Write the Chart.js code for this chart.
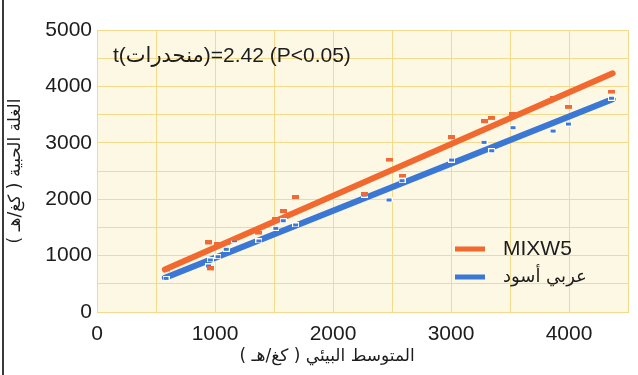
<!DOCTYPE html>
<html>
<head>
<meta charset="utf-8">
<script src="https://cdn.jsdelivr.net/npm/chart.js@4.4.0/dist/chart.umd.min.js"></script>
<style>
  html, body { margin: 0; padding: 0; background: #ffffff; }
  #wrap { position: relative; width: 638px; height: 375px; }
  #edge { position: absolute; left: 2px; top: 0; width: 2px; height: 375px; background: #3a3a3a; }
</style>
</head>
<body>
<div id="wrap">
  <canvas id="chart" width="638" height="375"></canvas>
  <div id="edge"></div>
</div>
<script>
// Environmental mean yield (kg/ha) for each site-season
const envMean    = [585, 945, 960, 1025, 1095, 1165, 1372, 1515, 1578, 1683, 2265, 2475, 2585, 3005, 3280, 3345, 3525, 3865, 3995, 4360];
// Grain yield of each genotype in those environments (kg/ha)
const mixw5      = [745, 1225, 765, 1190, 1218, 1290, 1400, 1635, 1779, 2030, 2080, 2695, 2411, 3091, 3375, 3434, 3493, 3780, 3629, 3900];
const arabiAswad = [597, 816, 922, 981, 1112, 1264, 1259, 1483, 1619, 1543, 2074, 1986, 2328, 2695, 3008, 2860, 3268, 3209, 3333, 3790];

// Fitted regression lines (end points over the sampled range)
const fitX          = [575, 4370];
const mixw5Fit      = [752, 4232];
const arabiAswadFit = [605, 3775];

const seriesNames = ['MIXW5', 'عربي أسود'];
const xTicks = [0, 1000, 2000, 3000, 4000];
const yTicks = [0, 1000, 2000, 3000, 4000, 5000];
const statText = 't(منحدرات\u200E)=2.42 (P<0.05)';
const xTitle = 'المتوسط البيئي ( كغ/هـ )';
const yTitle = 'الغلة الحبية ( كغ/هـ )';

const ORANGE = '#f2692f';
const BLUE = '#3b78d6';
const LATIN = '"Liberation Sans", Arial, "DejaVu Sans", sans-serif';
const ARABIC = '"DejaVu Sans", "Noto Sans", sans-serif';

function pairs(xs, ys) { return xs.map((x, i) => ({ x: x, y: ys[i] })); }

function makeMark(fill, edge) {
  const c = document.createElement('canvas');
  c.width = 7; c.height = 5;
  const g = c.getContext('2d');
  if (edge) {
    g.fillStyle = edge; g.fillRect(0, 0, 7, 5);
    g.fillStyle = fill; g.fillRect(1, 1, 5, 3);
  } else {
    g.fillStyle = fill; g.fillRect(0, 0, 7, 4);
  }
  return c;
}

const plotBackground = {
  id: 'plotBackground',
  beforeDraw(chart) {
    const { ctx, chartArea: a } = chart;
    ctx.save();
    ctx.fillStyle = '#fdf8e3';
    ctx.fillRect(a.left, a.top, a.right - a.left, a.bottom - a.top);
    ctx.restore();
  }
};

const labelsAndKey = {
  id: 'labelsAndKey',
  afterDraw(chart) {
    const { ctx, chartArea: a, scales } = chart;
    ctx.save();
    ctx.fillStyle = '#1c1c1c';

    // statistic in the upper left of the plot
    ctx.direction = 'ltr';
    ctx.font = '21px ' + LATIN;
    ctx.textAlign = 'left';
    ctx.textBaseline = 'alphabetic';
    ctx.fillText(statText, a.left + 16, 62);

    // x axis title
    ctx.direction = 'rtl';
    ctx.font = '17px ' + ARABIC;
    ctx.textAlign = 'center';
    ctx.textBaseline = 'middle';
    ctx.fillText(xTitle, scales.x.getPixelForValue(1950), 357);

    // y axis title, reading bottom to top
    ctx.save();
    ctx.translate(16, (a.top + a.bottom) / 2);
    ctx.rotate(-Math.PI / 2);
    ctx.fillText(yTitle, 0, 0);
    ctx.restore();

    // key with line samples
    const keyRows = [chart.data.datasets[2], chart.data.datasets[3]];
    keyRows.forEach((ds, i) => {
      const y = 249 + i * 28;
      ctx.strokeStyle = ds.borderColor;
      ctx.lineWidth = 5;
      ctx.lineCap = 'butt';
      ctx.beginPath();
      ctx.moveTo(455, y);
      ctx.lineTo(485, y);
      ctx.stroke();
      ctx.textAlign = 'left';
      ctx.textBaseline = 'middle';
      if (i === 0) {
        ctx.direction = 'ltr';
        ctx.font = '21px ' + LATIN;
      } else {
        ctx.direction = 'rtl';
        ctx.font = '18px ' + ARABIC;
      }
      ctx.fillText(ds.label, 503, y);
    });
    ctx.restore();
  }
};

const gridColor = '#f4da8c';
const tickFont = { family: LATIN, size: 21 };

new Chart(document.getElementById('chart'), {
  type: 'scatter',
  data: {
    datasets: [
      { label: seriesNames[0], data: pairs(envMean, mixw5), pointStyle: makeMark('#ef6a36', null), pointRadius: 3, showLine: false },
      { label: seriesNames[1], data: pairs(envMean, arabiAswad), pointStyle: makeMark('#3d78d8', '#ffffff'), pointRadius: 3, showLine: false },
      { type: 'line', label: seriesNames[0], data: pairs(fitX, mixw5Fit), borderColor: ORANGE, borderWidth: 6, borderCapStyle: 'round', pointRadius: 0, fill: false },
      { type: 'line', label: seriesNames[1], data: pairs(fitX, arabiAswadFit), borderColor: BLUE, borderWidth: 6, borderCapStyle: 'round', pointRadius: 0, fill: false }
    ]
  },
  options: {
    responsive: false,
    animation: false,
    events: [],
    layout: { padding: { top: 30, right: 3, left: 0, bottom: 0 } },
    plugins: { legend: { display: false }, tooltip: { enabled: false } },
    scales: {
      x: {
        type: 'linear', min: 0, max: 4500,
        afterFit(s) { s.height = 63; },
        ticks: {
          stepSize: 500, autoSkip: false, maxRotation: 0, padding: 10,
          color: '#1c1c1c', font: tickFont,
          callback: v => (xTicks.includes(v) ? String(v) : '')
        },
        grid: { color: gridColor, lineWidth: 1, drawTicks: false },
        border: { color: gridColor }
      },
      y: {
        type: 'linear', min: 0, max: 5000,
        afterFit(s) { s.width = 97; },
        ticks: {
          stepSize: 500, autoSkip: false, padding: 5,
          color: '#1c1c1c', font: tickFont,
          callback: v => (yTicks.includes(v) ? String(v) : '')
        },
        grid: { color: gridColor, lineWidth: 1, drawTicks: false },
        border: { color: gridColor }
      }
    }
  },
  plugins: [plotBackground, labelsAndKey]
});
</script>
</body>
</html>
